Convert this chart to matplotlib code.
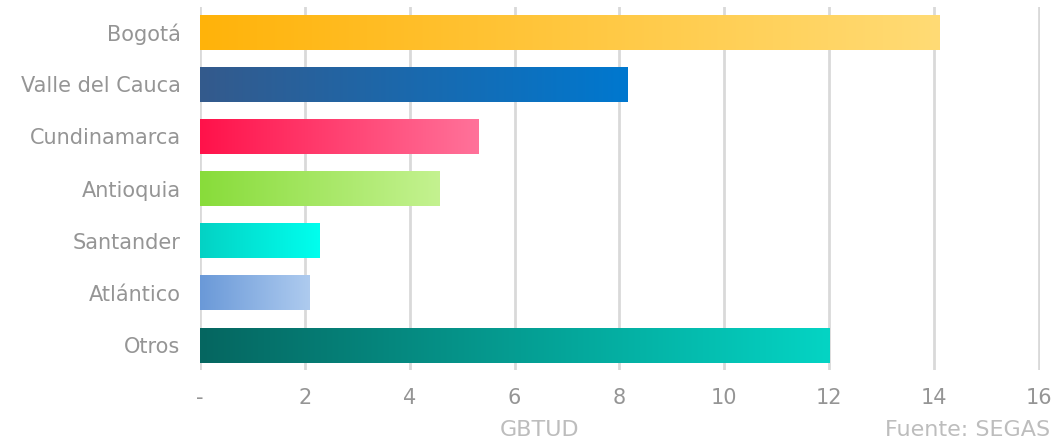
import matplotlib
matplotlib.use("Agg")
import matplotlib.pyplot as plt
import numpy as np
from matplotlib.colors import LinearSegmentedColormap

regions = ["Bogotá", "Valle del Cauca", "Cundinamarca", "Antioquia",
           "Santander", "Atlántico", "Otros"]
values = [14.1, 8.15, 5.32, 4.56, 2.27, 2.09, 12.0]
left_colors = ["#FFB30A", "#345A8C", "#FF124A", "#88DC3A",
               "#04D2C4", "#6A99D8", "#066660"]
right_colors = ["#FFDB75", "#0078CF", "#FF729A", "#C4F290",
                "#00FFEE", "#AECBEF", "#04D4C4"]
x_ticks = [0, 2, 4, 6, 8, 10, 12, 14, 16]
x_tick_labels = ["-", "2", "4", "6", "8", "10", "12", "14", "16"]

GRID = "#D9D9D9"
TEXT = "#959595"

plt.rcParams.update({
    "font.family": ["DejaVu Sans"],
    "font.size": 15,
})

fig = plt.figure(figsize=(10.58, 4.46), dpi=100)
ax = fig.add_axes([0.189, 0.170, 0.794, 0.814])

bar_h = 0.67
for i, (val, c0, c1) in enumerate(zip(values, left_colors, right_colors)):
    cmap = LinearSegmentedColormap.from_list(f"g{i}", [c0, c1])
    grad = np.linspace(0, 1, 256).reshape(1, -1)
    ax.imshow(grad, cmap=cmap, aspect="auto", interpolation="bicubic",
              extent=(0, val, i + bar_h / 2, i - bar_h / 2), zorder=3)

ax.set_xlim(0, 16.02)
ax.set_ylim(len(regions) - 0.52, -0.48)
ax.set_yticks(range(len(regions)))
ax.set_yticklabels(regions)
ax.set_xticks(x_ticks)
ax.set_xticklabels(x_tick_labels)

ax.xaxis.grid(True, color=GRID, linewidth=2, zorder=0)
ax.set_axisbelow(True)
for s in ax.spines.values():
    s.set_visible(False)
ax.tick_params(axis="both", length=0, colors=TEXT, labelsize=15)
ax.tick_params(axis="y", pad=14)
ax.tick_params(axis="x", pad=13)

fig.text(0.51, 0.022, "GBTUD", color="#BDBDBD", fontsize=16, ha="center")
fig.text(0.993, 0.022, "Fuente: SEGAS", color="#BDBDBD", fontsize=16, ha="right")

fig.savefig("out.png", dpi=100, facecolor="white")
